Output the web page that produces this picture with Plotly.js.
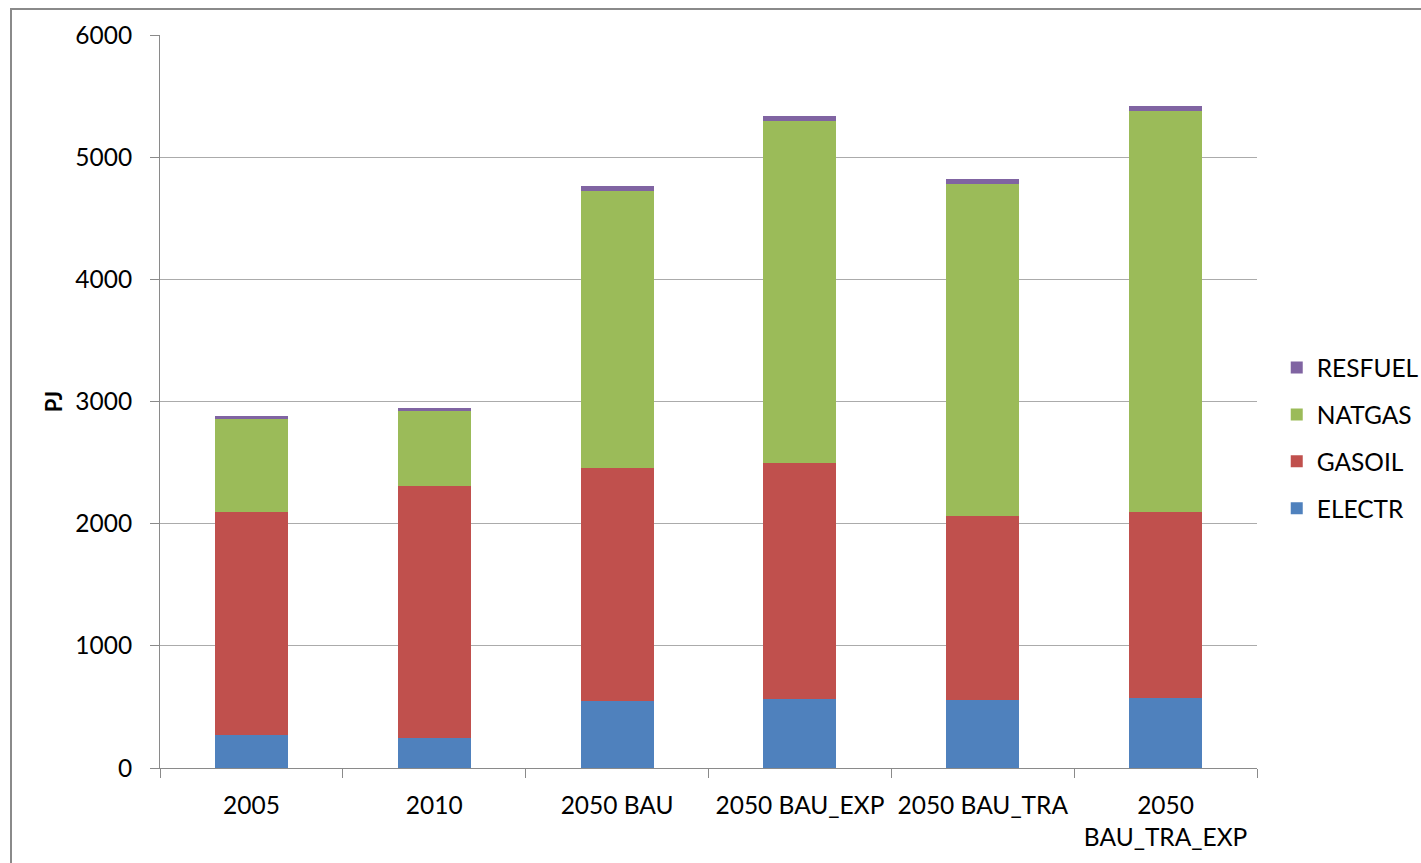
<!DOCTYPE html>
<html>
<head>
<meta charset="utf-8">
<script src="https://cdn.plot.ly/plotly-3.0.1.min.js"></script>
<style>
  html, body { margin: 0; padding: 0; background: #ffffff; overflow: hidden; }
  #chart { width: 1421px; height: 863px; }
  #frame {
    position: absolute; left: 10px; top: 8px; width: 1440px; height: 900px;
    border: 2px solid #8a8a8a; pointer-events: none; box-sizing: border-box;
  }
</style>
</head>
<body>
<div id="chart"></div>
<div id="frame"></div>
<script>
// Final energy use by fuel, PJ
const scenarios = ["2005", "2010", "2050 BAU", "2050 BAU_EXP", "2050 BAU_TRA", "2050<br>BAU_TRA_EXP"];
const electr  = [270, 248, 548, 567, 559, 575];
const gasoil  = [1827, 2057, 1910, 1929, 1501, 1517];
const natgas  = [761, 616, 2264, 2801, 2722, 3287];
const resfuel = [20, 25, 38, 41, 38, 38];

const seriesNames  = ["ELECTR", "GASOIL", "NATGAS", "RESFUEL"];
const seriesValues = [electr, gasoil, natgas, resfuel];
const seriesColors = ["#4f81bd", "#c0504d", "#9bbb59", "#8064a2"];

const fontFamily = "Lato, 'Open Sans', sans-serif";
const fontSize = 24.5;

// stacked from the bottom up; legend lists the top series first
const traces = seriesNames.map((name, i) => ({
  type: "bar",
  name: name,
  x: scenarios,
  y: seriesValues[i],
  legendgroup: name,
  legendrank: seriesNames.length - i,
  marker: { color: seriesColors[i], line: { width: 0 } },
  hoverinfo: "x+y+name"
}));

const layout = {
  width: 1421,
  height: 863,
  paper_bgcolor: "#ffffff",
  plot_bgcolor: "#ffffff",
  barmode: "stack",
  bargap: 0.6,
  margin: { l: 160, r: 164, t: 35, b: 95, autoexpand: false },
  font: { family: fontFamily, size: fontSize, color: "#000000" },
  xaxis: {
    type: "category",
    showgrid: false,
    showline: true,
    linecolor: "#8a8a8a",
    linewidth: 1,
    ticks: "outside",
    tickson: "boundaries",
    ticklen: 9,
    tickcolor: "#8a8a8a",
    ticklabelstandoff: 16,
    tickfont: { family: fontFamily, size: fontSize, color: "#000000" },
    fixedrange: true
  },
  yaxis: {
    range: [0, 6000],
    tickvals: [0, 1000, 2000, 3000, 4000, 5000, 6000],
    ticktext: ["0", "1000", "2000", "3000", "4000", "5000", "6000"],
    showgrid: true,
    gridcolor: "#ababab",
    gridwidth: 1,
    zeroline: false,
    showline: true,
    linecolor: "#8a8a8a",
    linewidth: 1,
    ticks: "outside",
    ticklen: 9,
    tickcolor: "#8a8a8a",
    ticklabelstandoff: 13,
    tickfont: { family: fontFamily, size: fontSize, color: "#000000" },
    title: {
      text: "<b>PJ</b>",
      font: { family: fontFamily, size: 22, color: "#000000" },
      standoff: 6
    },
    fixedrange: true
  },
  legend: {
    x: 1.018,
    xanchor: "left",
    y: 0.45,
    yanchor: "middle",
    traceorder: "grouped",
    tracegroupgap: 12,
    itemwidth: 30,
    font: { family: fontFamily, size: fontSize, color: "#000000" },
    bgcolor: "rgba(0,0,0,0)"
  },
  showlegend: true
};

Plotly.newPlot("chart", traces, layout, { displayModeBar: false, staticPlot: true });
</script>
</body>
</html>
